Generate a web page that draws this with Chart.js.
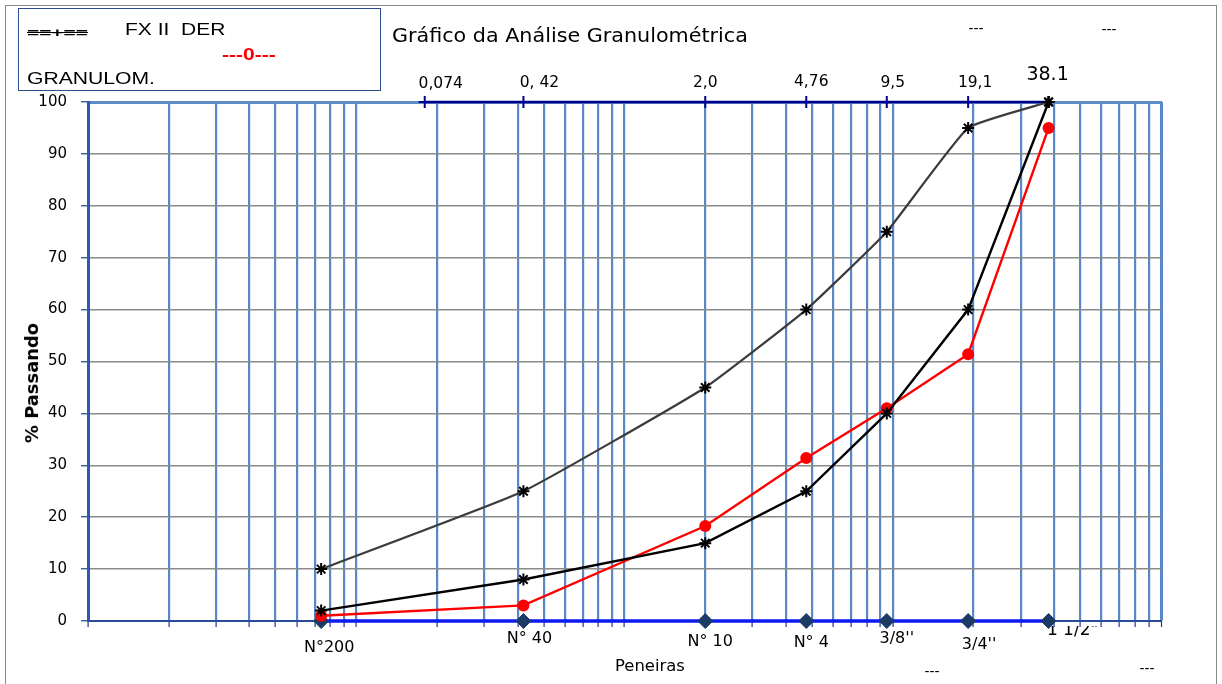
<!DOCTYPE html>
<html>
<head>
<meta charset="utf-8">
<script src="https://cdn.jsdelivr.net/npm/chart.js@4/dist/chart.umd.min.js"></script>
<style>
html,body{margin:0;padding:0;background:#fff;width:1222px;height:684px;overflow:hidden;}
#wrap{position:relative;width:1222px;height:684px;}
#frame{position:absolute;left:5px;top:5px;width:1212px;height:700px;border:1.5px solid #8a8a8a;box-sizing:border-box;}
#box{position:absolute;left:18px;top:8px;width:363px;height:83px;border:1px solid #2e4d8f;box-sizing:border-box;}
#cv{position:absolute;left:0;top:0;}
.t{position:absolute;white-space:pre;line-height:1;transform-origin:0 50%;}
</style>
</head>
<body>
<div id="wrap">
  <div id="frame"></div>
  <div id="box"></div>
  <canvas id="cv" width="1222" height="684"></canvas>
</div>
<script>
// ---- data ----
const sieveNames = ['N°200', 'N° 40', 'N° 10', 'N° 4', "3/8''", "3/4''", '1 1/2"'];
const sieveSizes = [0.074, 0.42, 2.0, 4.76, 9.5, 19.1, 38.1];
const topLabels = ['0,074', '0, 42', '2,0', '4,76', '9,5', '19,1', '38.1'];
const topMarkerSizes = [0.18, 0.42, 2.0, 4.76, 9.5, 19.1, 38.1];
const upperLimit = [10, 25, 45, 60, 75, 95, 100];
const lowerLimit = [2, 8, 15, 25, 40, 60, 100];
const sample = [1, 3, 18.3, 31.4, 41, 51.4, 95];
const yTickValues = [0, 10, 20, 30, 40, 50, 60, 70, 80, 90, 100];
const xMin = 0.01, xMax = 100;

const pts = (xs, ys) => xs.map((v, i) => ({x: v, y: ys[i]}));
const logGrid = [];
for (let e = -2; e <= 1; e++) for (let m = 1; m <= 9; m++) logGrid.push(+(m * Math.pow(10, e)).toPrecision(3));
logGrid.push(100);

// ---- label styling (positions relative to scale) ----
const topStyle = {dx: [16, 16, 0, 5, 6, 7, -1], y: [84, 83, 83, 82, 83, 83, 75], size: [15.5, 15.5, 15.5, 15.5, 15.5, 15.5, 19]};
const botStyle = {dx: [8, 6, 5, 5, 10, 11, 24], y: [648, 639, 642, 643, 639, 645, 631]};

const labelsPlugin = {
  id: 'sieveLabels',
  afterDraw(chart) {
    const {ctx} = chart;
    const x = chart.scales.x;
    ctx.save();
    ctx.textAlign = 'center';
    ctx.textBaseline = 'middle';
    ctx.fillStyle = '#000';
    topLabels.forEach((t, i) => {
      ctx.font = topStyle.size[i] + 'px "DejaVu Sans"';
      ctx.fillText(t, x.getPixelForValue(topMarkerSizes[i]) + topStyle.dx[i], topStyle.y[i]);
    });
    ctx.font = '16px "DejaVu Sans"';
    sieveNames.forEach((t, i) => {
      const px = x.getPixelForValue(sieveSizes[i]) + botStyle.dx[i];
      if (i === sieveNames.length - 1) {
        ctx.save();
        ctx.font = '17px "DejaVu Sans"';
        ctx.beginPath();
        ctx.rect(px - 60, 626, 120, 40);
        ctx.clip();
        ctx.fillText(t, px, botStyle.y[i]);
        ctx.restore();
      } else {
        ctx.fillText(t, px, botStyle.y[i]);
      }
    });
    ctx.restore();
  }
};

const chart = new Chart(document.getElementById('cv'), {
  type: 'line',
  data: {
    datasets: [
      {
        label: 'topo', data: pts(topMarkerSizes, topMarkerSizes.map(() => 100)),
        borderColor: '#00008b', borderWidth: 2.5, pointStyle: 'cross', pointRadius: 6,
        pointBorderColor: '#00008b', pointBorderWidth: 2, clip: false, order: 5
      },
      {
        label: 'base', data: pts(sieveSizes, sieveSizes.map(() => 0)),
        borderColor: '#0a1af0', borderWidth: 3.5, pointStyle: 'rectRot', pointRadius: 7.5,
        pointBackgroundColor: '#1b3a66', pointBorderColor: '#1b3a66', pointBorderWidth: 1, clip: false, order: 4
      },
      {
        label: 'Limite superior', data: pts(sieveSizes, upperLimit),
        borderColor: '#3c3c3c', borderWidth: 2.2, tension: 0.12, pointStyle: 'star', pointRadius: 6,
        pointBorderColor: '#000', pointBorderWidth: 2, clip: false, order: 1
      },
      {
        label: 'Amostra', data: pts(sieveSizes, sample),
        borderColor: '#ff0000', borderWidth: 2.4, pointStyle: 'circle', pointRadius: 6,
        pointBackgroundColor: '#ff0000', pointBorderColor: '#ff0000', pointBorderWidth: 0, clip: false, order: 3
      },
      {
        label: 'Limite inferior', data: pts(sieveSizes, lowerLimit),
        borderColor: '#000', borderWidth: 2.4, pointStyle: 'star', pointRadius: 6,
        pointBorderColor: '#000', pointBorderWidth: 2, clip: false, order: 2
      }
    ]
  },
  options: {
    responsive: false,
    animation: false,
    devicePixelRatio: 1,
    layout: {padding: {left: 0, top: 0, right: 61, bottom: 0}},
    plugins: {legend: {display: false}, tooltip: {enabled: false}},
    elements: {line: {fill: false}},
    scales: {
      x: {
        type: 'logarithmic', position: 'bottom', min: xMin, max: xMax,
        afterBuildTicks(s) { s.ticks = logGrid.map(v => ({value: v})); },
        afterFit(s) { s.height = 63; },
        ticks: {display: false},
        grid: {
          color: (c) => c.tick && c.tick.value <= xMin ? 'rgba(0,0,0,0)' : '#5a87c5',
          lineWidth: (c) => c.tick && c.tick.value >= xMax ? 3 : 2.2,
          tickColor: '#1f3b8c', tickLength: 6, tickWidth: 1.2
        },
        border: {color: '#2a4a9a', width: 2}
      },
      x2: {
        type: 'logarithmic', position: 'top', min: xMin, max: xMax,
        afterFit(s) { s.height = 102; },
        ticks: {display: false},
        grid: {display: false, drawTicks: false},
        border: {color: '#5b8cc8', width: 3}
      },
      y: {
        min: 0, max: 100,
        afterBuildTicks(s) { s.ticks = yTickValues.map(v => ({value: v})); },
        afterFit(s) { s.width = 88; },
        ticks: {color: '#000', font: {family: 'DejaVu Sans', size: 15}, padding: 14},
        grid: {
          color: (c) => (c.tick && (c.tick.value === 0 || c.tick.value === 100)) ? 'rgba(0,0,0,0)' : '#8a8a8a',
          lineWidth: 1.5, tickColor: '#1f3b8c', tickLength: 7, tickWidth: 1.2
        },
        border: {color: '#2f56b0', width: 3}
      }
    }
  },
  plugins: [labelsPlugin]
});

// ---- HTML text annotations ----
const wrap = document.getElementById('wrap');
function addText(txt, cx, cy, font, opts) {
  opts = opts || {};
  const d = document.createElement('div');
  d.className = 't';
  d.textContent = txt;
  d.style.font = font;
  if (opts.color) d.style.color = opts.color;
  if (opts.deco) d.style.textDecoration = opts.deco;
  wrap.appendChild(d);
  const w = d.offsetWidth, h = d.offsetHeight;
  let sx = 1;
  if (opts.w) sx = opts.w / w;
  if (opts.rot) {
    d.style.transformOrigin = '50% 50%';
    d.style.left = (cx - w / 2) + 'px';
    d.style.top = (cy - h / 2) + 'px';
    d.style.transform = 'rotate(-90deg) scaleX(' + sx + ')';
  } else {
    d.style.left = (cx - w * sx / 2) + 'px';
    d.style.top = (cy - h / 2) + 'px';
    d.style.transform = 'scaleX(' + sx + ')';
  }
  return d;
}
addText('==+==', 57, 32, 'bold 13px "Liberation Sans"', {deco: 'line-through', w: 61});
addText('FX II  DER', 175, 30, '17px "Liberation Sans"', {w: 100});
addText('---0---', 249, 55, 'bold 16px "Liberation Sans"', {color: '#ff0000', w: 54});
addText('GRANULOM.', 91, 79, '17px "Liberation Sans"', {w: 128});
addText('Gráfico da Análise Granulométrica', 570, 35, '19px "DejaVu Sans"', {w: 356});
addText('---', 976, 28, '14px "DejaVu Sans"');
addText('---', 1109, 29, '14px "DejaVu Sans"');
addText('---', 932, 671, '14px "DejaVu Sans"');
addText('---', 1147, 668, '14px "DejaVu Sans"');
addText('Peneiras', 650, 666, '15px "DejaVu Sans"', {w: 70});
addText('% Passando', 32, 383, 'bold 17px "DejaVu Sans"', {rot: true, w: 120});
</script>
</body>
</html>
